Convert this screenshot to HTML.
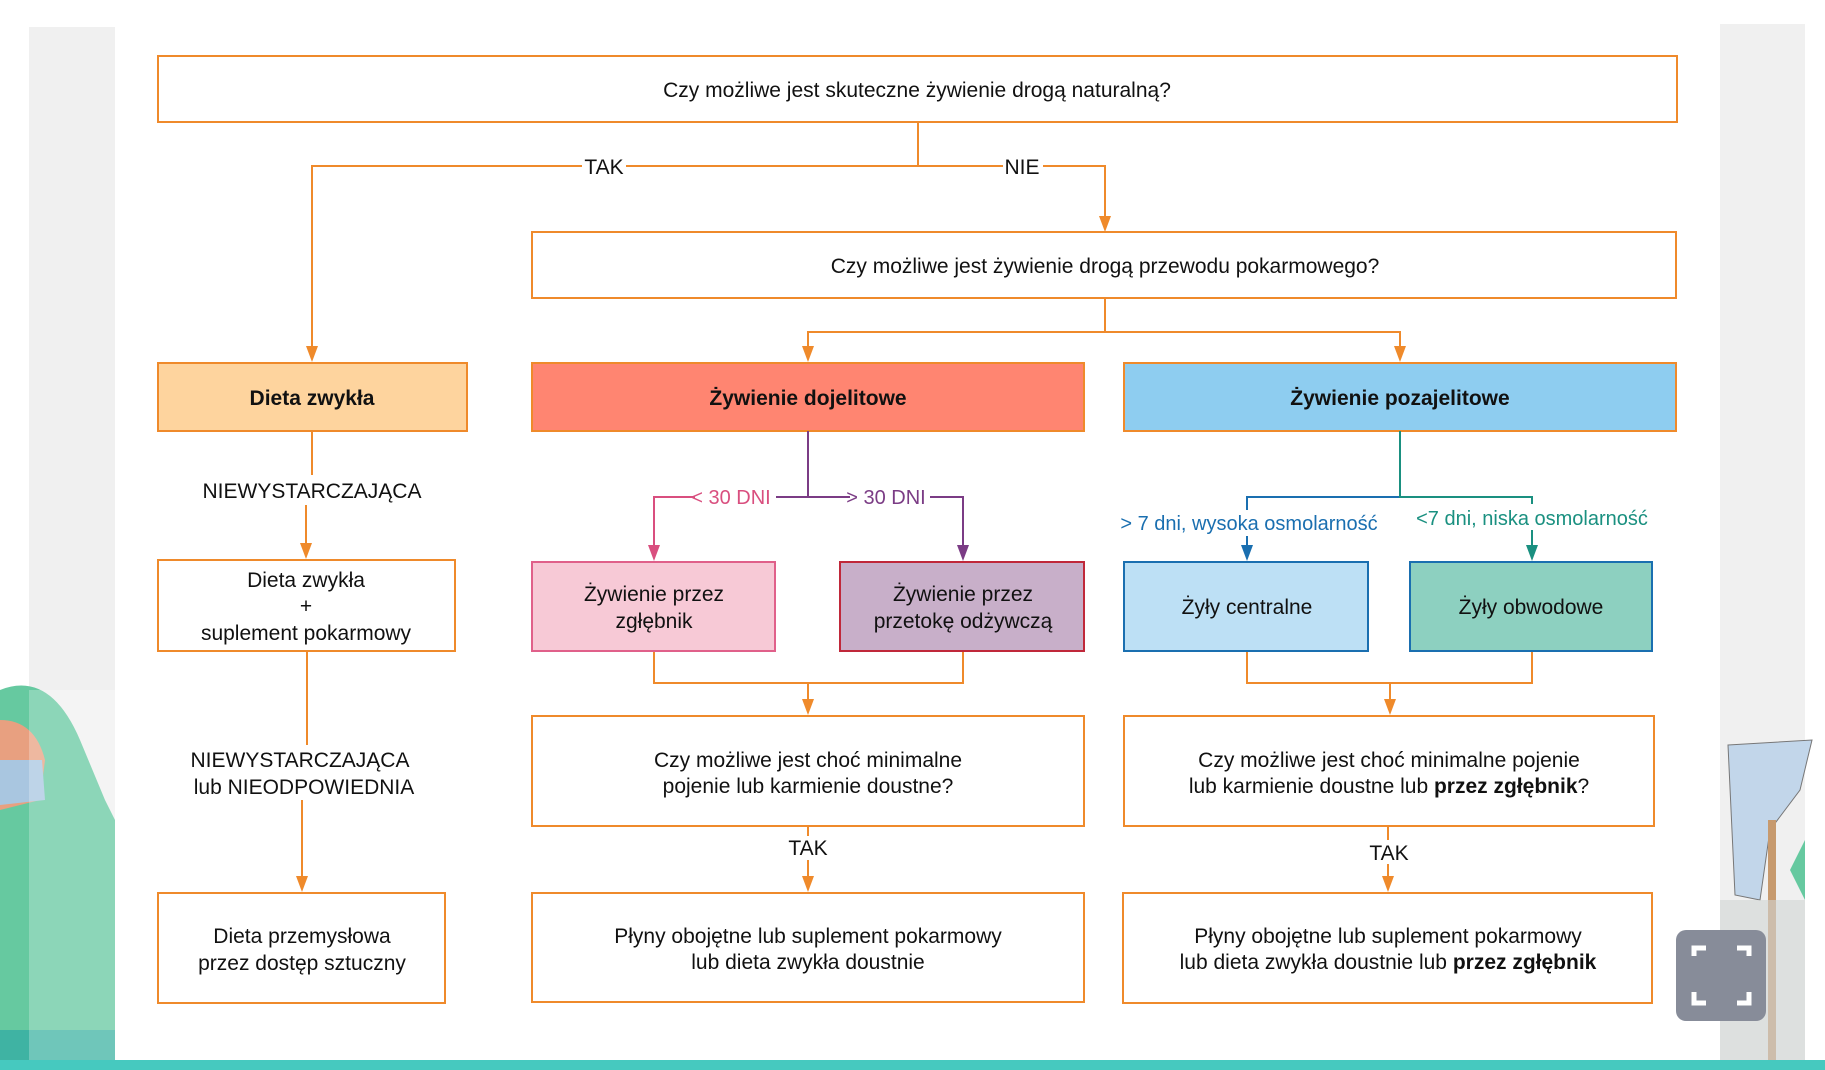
<!DOCTYPE html>
<html><head><meta charset="utf-8"><style>
html,body{margin:0;padding:0;background:#fff;}
svg{display:block;font-family:"Liberation Sans","DejaVu Sans",sans-serif;}
</style></head><body>
<svg width="1825" height="1070" viewBox="0 0 1825 1070" xmlns="http://www.w3.org/2000/svg">
<!-- background -->
<rect x="0" y="0" width="1825" height="1070" fill="#fff"/>
<rect x="29" y="27" width="86" height="1033" fill="#f0f0f0"/>
<rect x="1720" y="24" width="85" height="1036" fill="#f0f0f0"/>
<rect x="0" y="1060" width="1825" height="10" fill="#46c9bf"/>
<!-- left figure -->
<path d="M0,690 Q50,670 80,740 L105,800 L115,820 L115,1060 L0,1060 Z" fill="#66c9a0"/>
<path d="M0,720 Q35,720 45,760 L40,800 L0,810 Z" fill="#e8a080"/>
<path d="M0,760 L42,760 L45,800 L0,805 Z" fill="#a9c6e0"/>
<rect x="0" y="1030" width="115" height="30" fill="#3fb3a3"/>
<rect x="29" y="690" width="86" height="370" fill="#fff" opacity="0.25"/>
<!-- right figure -->
<path d="M1728,745 L1812,740 L1800,790 L1770,830 L1760,900 L1735,895 Z" fill="#c2d6ea" stroke="#777" stroke-width="1"/>
<rect x="1768" y="820" width="8" height="240" fill="#c79a6e"/>
<path d="M1790,870 L1805,840 L1805,900 Z" fill="#66c9a0"/>
<rect x="1720" y="900" width="85" height="160" fill="#d0d6d4" opacity="0.6"/>
<!-- fullscreen button -->
<rect x="1676" y="930" width="90" height="91" rx="10" fill="#878c99"/>
<path d="M1694,956 V948 H1706 M1737,948 H1749 V956 M1694,992 V1003 H1706 M1737,1003 H1749 V992" stroke="#fff" stroke-width="5" fill="none"/>

<g fill="none" stroke="#ef8a2b" stroke-width="2">
<rect x="158" y="56" width="1519" height="66" fill="#fff"/>
<path d="M918,122 V166 H312 V350"/>
<path d="M918,166 H1105 V220"/>
<rect x="532" y="232" width="1144" height="66" fill="#fff"/>
<path d="M1105,298 V332 H808 V350"/>
<path d="M1105,332 H1400 V350"/>
<rect x="158" y="363" width="309" height="68" fill="#fed49e"/>
<rect x="532" y="363" width="552" height="68" fill="#ff8571"/>
<rect x="1124" y="363" width="552" height="68" fill="#8ecdf0"/>
<path d="M312,431 V475"/>
<path d="M306,505 V548"/>
<rect x="158" y="560" width="297" height="91" fill="#fff"/>
<path d="M307,651 V745"/>
<path d="M302,800 V880"/>
<rect x="158" y="893" width="287" height="110" fill="#fff"/>
<path d="M654,651 V683 H963 V651"/>
<path d="M808,683 V705"/>
<rect x="532" y="716" width="552" height="110" fill="#fff"/>
<path d="M808,826 V836"/>
<path d="M808,860 V880"/>
<rect x="532" y="893" width="552" height="109" fill="#fff"/>
<path d="M1247,651 V683 H1532 V651"/>
<path d="M1390,683 V705"/>
<rect x="1124" y="716" width="530" height="110" fill="#fff"/>
<path d="M1388,826 V840"/>
<path d="M1388,864 V880"/>
<rect x="1123" y="893" width="529" height="110" fill="#fff"/>
</g>
<g fill="#ef8a2b">
<path d="M306,346 L318,346 L312,362 Z"/>
<path d="M1099,216 L1111,216 L1105,232 Z"/>
<path d="M802,346 L814,346 L808,362 Z"/>
<path d="M1394,346 L1406,346 L1400,362 Z"/>
<path d="M300,543 L312,543 L306,559 Z"/>
<path d="M296,876 L308,876 L302,892 Z"/>
<path d="M802,699 L814,699 L808,715 Z"/>
<path d="M802,876 L814,876 L808,892 Z"/>
<path d="M1384,699 L1396,699 L1390,715 Z"/>
<path d="M1382,876 L1394,876 L1388,892 Z"/>
</g>
<!-- enteral branch -->
<path d="M808,431 V497 H847" stroke="#7b3c85" stroke-width="2" fill="none"/>
<path d="M808,497 H775" stroke="#7b3c85" stroke-width="2" fill="none"/>
<path d="M775,497 H654 V548" stroke="#d94f7f" stroke-width="2" fill="none"/>
<path d="M648,545 L660,545 L654,561 Z" fill="#d94f7f"/>
<path d="M930,497 H963 V548" stroke="#7b3c85" stroke-width="2" fill="none"/>
<path d="M957,545 L969,545 L963,561 Z" fill="#7b3c85"/>
<rect x="688" y="485" width="88" height="24" fill="#fff"/>
<rect x="843" y="485" width="86" height="24" fill="#fff"/>
<path d="M688,497 H695" stroke="#d94f7f" stroke-width="2"/>
<path d="M843,497 H850" stroke="#7b3c85" stroke-width="2"/>
<text x="731" y="504" font-size="20" fill="#d94f7f" text-anchor="middle">&lt; 30 DNI</text>
<text x="886" y="504" font-size="20" fill="#7b3c85" text-anchor="middle">&gt; 30 DNI</text>
<rect x="532" y="562" width="243" height="89" fill="#f7c9d6" stroke="#e0608a" stroke-width="2"/>
<rect x="840" y="562" width="244" height="89" fill="#c8afc9" stroke="#c0283a" stroke-width="2"/>
<!-- parenteral branch -->
<path d="M1400,431 V497 H1247 V548" stroke="#1a6fb0" stroke-width="2" fill="none"/>
<path d="M1241,545 L1253,545 L1247,561 Z" fill="#1a6fb0"/>
<path d="M1400,431 V497 H1532 V548" stroke="#1a9080" stroke-width="2" fill="none"/>
<path d="M1526,545 L1538,545 L1532,561 Z" fill="#1a9080"/>
<rect x="1112" y="510" width="276" height="26" fill="#fff"/>
<rect x="1405" y="504" width="254" height="26" fill="#fff"/>
<text x="1249" y="530" font-size="20" fill="#1a6fb0" text-anchor="middle">&gt; 7 dni, wysoka osmolarność</text>
<text x="1532" y="525" font-size="20" fill="#1a9080" text-anchor="middle">&lt;7 dni, niska osmolarność</text>
<rect x="1124" y="562" width="244" height="89" fill="#bde0f5" stroke="#1a6fb0" stroke-width="2"/>
<rect x="1410" y="562" width="242" height="89" fill="#8dd0c0" stroke="#1a6fb0" stroke-width="2"/>

<g font-size="21" fill="#111" text-anchor="middle">
<rect x="582" y="154" width="44" height="24" fill="#fff"/>
<text x="604" y="174">TAK</text>
<rect x="1003" y="154" width="40" height="24" fill="#fff"/>
<text x="1022" y="174">NIE</text>
<text x="917" y="97">Czy możliwe jest skuteczne żywienie drogą naturalną?</text>
<text x="1105" y="273">Czy możliwe jest żywienie drogą przewodu pokarmowego?</text>
<text x="312" y="405" font-weight="bold">Dieta zwykła</text>
<text x="808" y="405" font-weight="bold">Żywienie dojelitowe</text>
<text x="1400" y="405" font-weight="bold">Żywienie pozajelitowe</text>
<text x="312" y="498">NIEWYSTARCZAJĄCA</text>
<text x="306" y="587">Dieta zwykła</text>
<text x="306" y="613">+</text>
<text x="306" y="640">suplement pokarmowy</text>
<text x="300" y="767">NIEWYSTARCZAJĄCA</text>
<text x="304" y="794">lub NIEODPOWIEDNIA</text>
<text x="302" y="943">Dieta przemysłowa</text>
<text x="302" y="970">przez dostęp sztuczny</text>
<text x="654" y="601">Żywienie przez</text>
<text x="654" y="628">zgłębnik</text>
<text x="963" y="601">Żywienie przez</text>
<text x="963" y="628">przetokę odżywczą</text>
<text x="1247" y="614">Żyły centralne</text>
<text x="1531" y="614">Żyły obwodowe</text>
<text x="808" y="767">Czy możliwe jest choć minimalne</text>
<text x="808" y="793">pojenie lub karmienie doustne?</text>
<text x="808" y="855">TAK</text>
<text x="808" y="943">Płyny obojętne lub suplement pokarmowy</text>
<text x="808" y="969">lub dieta zwykła doustnie</text>
<text x="1389" y="767">Czy możliwe jest choć minimalne pojenie</text>
<text x="1389" y="793">lub karmienie doustne lub <tspan font-weight="bold">przez zgłębnik</tspan>?</text>
<text x="1389" y="860">TAK</text>
<text x="1388" y="943">Płyny obojętne lub suplement pokarmowy</text>
<text x="1388" y="969">lub dieta zwykła doustnie lub <tspan font-weight="bold">przez zgłębnik</tspan></text>
</g>
</svg>
</body></html>
